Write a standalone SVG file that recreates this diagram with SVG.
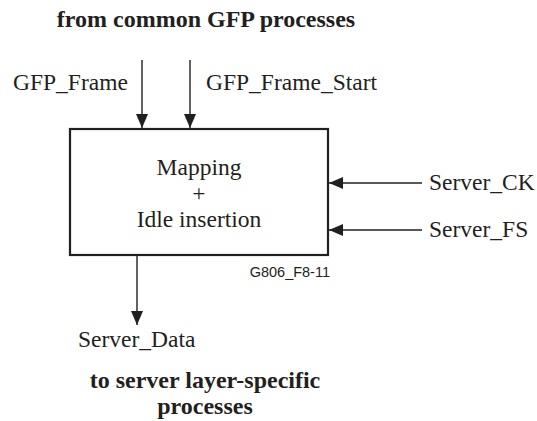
<svg xmlns="http://www.w3.org/2000/svg" width="537" height="421" viewBox="0 0 537 421">
<defs>
<marker id="ah" viewBox="0 0 14 12" refX="14" refY="6" markerWidth="14" markerHeight="12" markerUnits="userSpaceOnUse" orient="auto">
<path d="M0,0 L14,6 L0,12 Z" fill="#231f20"/>
</marker>
</defs>
<style>
.t{font-family:"Liberation Serif","Times New Roman",serif;font-size:23.5px;fill:#231f20}
.b{font-family:"Liberation Serif","Times New Roman",serif;font-size:24px;font-weight:bold;fill:#231f20}
.s{font-family:"Liberation Sans",Arial,sans-serif;font-size:14.5px;fill:#231f20}
.c{stroke:#231f20;stroke-width:1.4;fill:none;marker-end:url(#ah)}
</style>
<rect width="537" height="421" fill="#fff"/>
<text class="b" x="206" y="27" text-anchor="middle">from common GFP processes</text>
<g id="block">
<rect x="70" y="129" width="258" height="126" fill="#fff" stroke="#231f20" stroke-width="2.2"/>
<text class="t" x="199" y="175" text-anchor="middle">Mapping</text>
<text class="t" x="199" y="201" text-anchor="middle">+</text>
<text class="t" x="199" y="227" text-anchor="middle">Idle insertion</text>
</g>
<g id="connectors">
<line class="c" x1="142" y1="60" x2="142" y2="128"/>
<line class="c" x1="190" y1="60" x2="190" y2="128"/>
<line class="c" x1="422" y1="183" x2="329" y2="183"/>
<line class="c" x1="422" y1="230" x2="329" y2="230"/>
<line class="c" x1="137" y1="256" x2="137" y2="325"/>
</g>
<g id="labels">
<text class="t" x="13" y="90">GFP_Frame</text>
<text class="t" x="206" y="90">GFP_Frame_Start</text>
<text class="t" x="429" y="190">Server_CK</text>
<text class="t" x="429" y="237">Server_FS</text>
<text class="t" x="78" y="347">Server_Data</text>
<text class="s" x="330" y="277" text-anchor="end">G806_F8-11</text>
<text class="b" x="205" y="388" text-anchor="middle">to server layer-specific</text>
<text class="b" x="205" y="414" text-anchor="middle">processes</text>
</g>
</svg>
